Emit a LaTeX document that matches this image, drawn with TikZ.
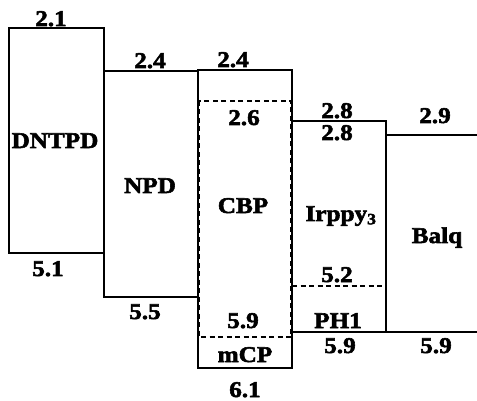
\documentclass[tikz,border=0pt]{standalone}
\usepackage{fontspec}
\newfontfamily\lblfont{Liberation Serif}[UprightFont=* Bold,FakeStretch=1.12,FakeBold=2.5]
\begin{document}
\begin{tikzpicture}[x=1pt,y=-1pt,
  lvl/.style={line width=1.6pt},
  dlvl/.style={line width=1.4pt,dash pattern=on 5pt off 3.5pt},
  lab/.style={anchor=base,inner sep=0pt,font=\lblfont\fontsize{22.5}{26}\selectfont}]
\useasboundingbox (0,0) rectangle (477,401);
% DNTPD
\draw[lvl] (9,28) rectangle (104,253);
% NPD
\draw[lvl] (104,71) rectangle (198,297);
% mCP (solid) and CBP (dashed)
\draw[lvl] (198,70) rectangle (292,368);
\draw[dlvl] (199,101) rectangle (291,337);
% Irppy3 / PH1
\draw[lvl] (292,121) rectangle (386,332);
\draw[dlvl] (292,286) -- (386,286);
% Balq
\draw[lvl] (386,135) -- (477,135);
\draw[lvl] (386,332) -- (477,332);
% labels
\node[lab] (l21) at (51,26) {2.1};
\node[lab] (dntpd) at (55,148) {DNTPD};
\node[lab] (l51) at (48,276) {5.1};
\node[lab] (l24a) at (150,68) {2.4};
\node[lab] (npd) at (150,193) {NPD};
\node[lab] (l55) at (145,319) {5.5};
\node[lab] (l24b) at (233,67) {2.4};
\node[lab] (l26) at (244,125) {2.6};
\node[lab] (cbp) at (243,213) {CBP};
\node[lab] (l59a) at (243,328) {5.9};
\node[lab] (mcp) at (245,362) {mCP};
\node[lab] (l61) at (245,397) {6.1};
\node[lab] (l28a) at (337,118) {2.8};
\node[lab] (l28b) at (337,140) {2.8};
\node[lab] (irppy) at (341,221) {Irppy\textsubscript{3}};
\node[lab] (l52) at (337,282) {5.2};
\node[lab] (ph1) at (338,328) {PH1};
\node[lab] (l59b) at (340,353) {5.9};
\node[lab] (l29) at (435,123) {2.9};
\node[lab] (balq) at (437,243) {Balq};
\node[lab] (l59c) at (436,353) {5.9};
\end{tikzpicture}
\end{document}
